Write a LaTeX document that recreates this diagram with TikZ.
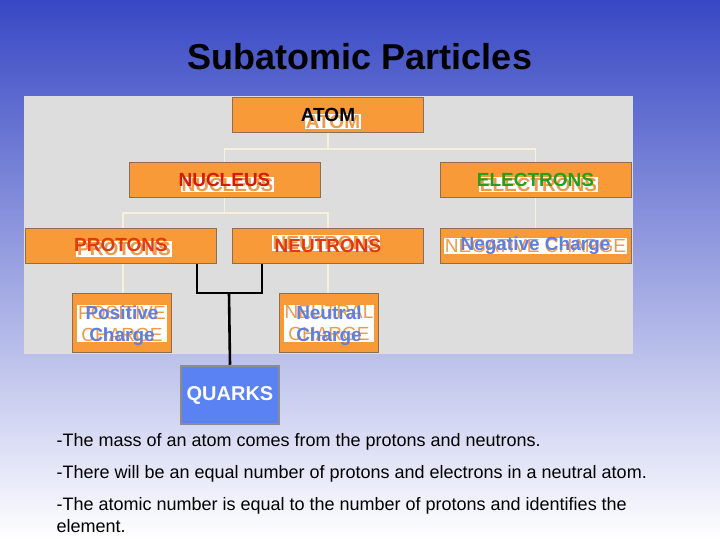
\documentclass[tikz,border=0pt]{standalone}
\usepackage{fontspec}
\setmainfont{Liberation Sans}
\definecolor{boxorange}{HTML}{F99A38}
\definecolor{boxedge}{HTML}{8C6E55}
\definecolor{ghostorange}{HTML}{EE9A48}
\definecolor{linkcream}{HTML}{F6F1DA}
\definecolor{panelgray}{HTML}{DDDDDD}
\definecolor{quarkblue}{HTML}{5B82F2}
\definecolor{chargeblue}{HTML}{5F7FE0}
\definecolor{nucred}{HTML}{D41A0A}
\definecolor{protred}{HTML}{E03A10}
\definecolor{elecgreen}{HTML}{22A01E}
\definecolor{skytop}{HTML}{3848C4}
\definecolor{skymid}{HTML}{9CA2E2}
\tikzset{
  box/.style={draw=boxedge, line width=1pt, fill=boxorange, inner sep=0pt,
    minimum width=191pt, minimum height=35pt},
  smallbox/.style={box, minimum width=99pt, minimum height=59pt},
  ghost/.style 2 args={path picture={
    \node[draw=none, fill=white, minimum width=0pt, minimum height=0pt, inner sep=1pt,
      text=ghostorange, align=center, font=\fontsize{19}{22}\selectfont]
      at ([shift={#1}]path picture bounding box.center) {#2};}},
  lbl/.style={font=\bfseries\fontsize{19}{22}\selectfont, align=center},
  link/.style={draw=linkcream, line width=1.2pt},
  quarkline/.style={draw=black, line width=2.6pt}
}
\newcommand{\twolines}[2]{\raisebox{-8pt}[0pt][0pt]{\begin{tabular}{@{}c@{}}#1\\#2\end{tabular}}}
\begin{document}
\begin{tikzpicture}[x=1pt, y=-1pt]
\useasboundingbox (0,0) rectangle (720,540);
\shade[top color=skytop, middle color=skymid, bottom color=white] (0,0) rectangle (720,540);
\fill[panelgray] (24,96) rectangle (633,354);

\node[font=\bfseries\fontsize{36}{42}\selectfont] (title) at (360,57) {Subatomic Particles};

% tree links
\draw[link] (328,133) -- (328,149) -| (224.5,163);
\draw[link] (328,149) -| (535.5,163);
\draw[link] (224.5,198) -- (224.5,213) -| (123,228);
\draw[link] (224.5,213) -| (328,228);
\draw[link] (535.5,198) -- (535.5,228);
\draw[link] (123,263) -- (123,293);
\draw[link] (328,263) -- (328,293);

\node[box, ghost={(5pt,-6pt)}{\bfseries ATOM}, lbl] (atom) at (328,115.5) {\raisebox{2pt}{ATOM}};
\node[box, ghost={(3pt,-4pt)}{\bfseries NUCLEUS}, lbl, text=nucred] (nucleus) at (224.5,180.5) {\raisebox{2pt}{NUCLEUS}};
\node[box, ghost={(3pt,-4pt)}{\bfseries ELECTRONS}, lbl, text=elecgreen] (electrons) at (535.5,180.5) {\raisebox{2pt}{ELECTRONS}};
\node[box, ghost={(3pt,-3pt)}{\bfseries PROTONS}, lbl, text=protred] (protons) at (121,246) {\raisebox{3pt}{PROTONS}};
\node[box, ghost={(-2pt,3pt)}{\bfseries NEUTRONS}, lbl, text=protred] (neutrons) at (328,246) {\raisebox{-3pt}{NEUTRONS}};
\node[box, ghost={(0pt,0pt)}{NEGATIVE CHARGE}, lbl, text=chargeblue] (negative) at (535.5,246) {\raisebox{2pt}{Negative Charge}};
\node[smallbox, ghost={(0pt,-1pt)}{POSITIVE\\CHARGE}, lbl, text=chargeblue] (positive) at (122,322.5) {\twolines{Positive}{Charge}};
\node[smallbox, ghost={(0pt,-1pt)}{NEUTRAL\\CHARGE}, lbl, text=chargeblue] (neutral) at (329,322.5) {\twolines{Neutral}{Charge}};

\node[draw={rgb,255:red,140;green,140;blue,140}, line width=2.5pt, fill=quarkblue, text=white,
  minimum width=98pt, minimum height=58pt, font=\bfseries\fontsize{20}{24}\selectfont] (quarks) at (230,395) {QUARKS};

% quark bracket
\coordinate (join) at (229,293);
\draw[quarkline] (197,263.5) |- (join) -| (262,263.5);
\draw[quarkline] (join) -- (quarks.north);

\node[anchor=north west, align=left, font=\fontsize{18}{22}\selectfont] (facts) at (53,430) {%
-The mass of an atom comes from the protons and neutrons.\\[10pt]
-There will be an equal number of protons and electrons in a neutral atom.\\[10pt]
-The atomic number is equal to the number of protons and identifies the\\
element.};
\end{tikzpicture}
\end{document}
